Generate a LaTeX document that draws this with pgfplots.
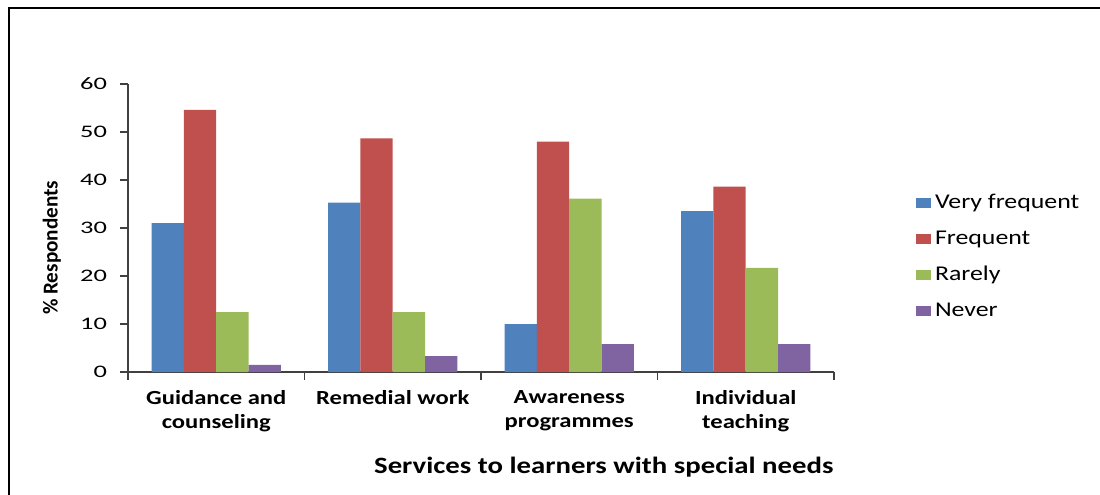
\documentclass[border=0pt]{standalone}
\usepackage{fontspec}
\setmainfont{Carlito}[FakeStretch=1.23]
\newfontfamily\tickfont{Carlito}[FakeStretch=1.5]
\newfontfamily\ylabfont{Carlito}
\usepackage{pgfplots}
\pgfplotsset{compat=1.18}
\definecolor{cblue}{HTML}{4F81BD}
\definecolor{cred}{HTML}{C0504D}
\definecolor{cgreen}{HTML}{9BBB59}
\definecolor{cpurple}{HTML}{8064A2}
\begin{document}
\begin{tikzpicture}
\path[use as bounding box] (0,0) rectangle (550pt,247pt);
\draw[line width=1pt] (4.5pt,-5pt) -- (4.5pt,243pt) -- (560pt,243pt);
\begin{axis}[
  at={(64pt,61pt)}, anchor=south west,
  scale only axis, width=353pt, height=144pt,
  ybar=0pt, bar width=0.183,
  xmin=-0.5, xmax=3.5, ymin=0, ymax=60,
  ytick={0,10,...,60},
  xtick={-0.5,0.5,1.5,2.5,3.5}, xticklabels={},
  extra x ticks={0,1,2,3},
  extra x tick labels={Guidance and\\counseling, Remedial work, Awareness\\programmes, Individual\\teaching},
  extra x tick style={major tick length=0pt},
  xticklabel style={align=center, font=\fontsize{10}{12}\selectfont\bfseries, yshift=-5.5pt},
  yticklabel style={font=\tickfont\fontsize{8.8}{10}\selectfont, xshift=-3pt},
  /pgf/number format/assume math mode=true,
  tick align=outside, major tick length=4pt,
  axis x line*=bottom, axis y line*=left,
  axis line style={line width=0.6pt, black!75},
  tick style={line width=0.6pt, black!75},
  xlabel={Services to learners with special needs},
  xlabel style={at={(rel axis cs:0.674,-0.33)}, anchor=center, font=\fontsize{11.7}{13}\selectfont\bfseries},
  ylabel={\% Respondents},
  ylabel style={at={(rel axis cs:-0.108,0.431)}, anchor=center, font=\ylabfont\fontsize{10.6}{12}\selectfont\bfseries},
  legend style={at={(rel axis cs:1.1156,0.400)}, anchor=west, draw=none, fill=none,
    font=\fontsize{10.5}{12}\selectfont, row sep=5.6pt, inner sep=0pt,
    /tikz/every even column/.append style={column sep=3pt}},
  legend cell align=left,
  legend image code/.code={\fill[#1] (0pt,-2.5pt) rectangle (7.5pt,2.5pt);},
]
\addplot[fill=cblue, draw=none] coordinates {(0,31.0) (1,35.3) (2,10.0) (3,33.5)};
\addplot[fill=cred, draw=none] coordinates {(0,54.6) (1,48.7) (2,48.0) (3,38.6)};
\addplot[fill=cgreen, draw=none] coordinates {(0,12.5) (1,12.5) (2,36.1) (3,21.7)};
\addplot[fill=cpurple, draw=none] coordinates {(0,1.5) (1,3.3) (2,5.8) (3,5.8)};
\legend{Very frequent, Frequent, Rarely, Never}
\end{axis}
\end{tikzpicture}
\end{document}
